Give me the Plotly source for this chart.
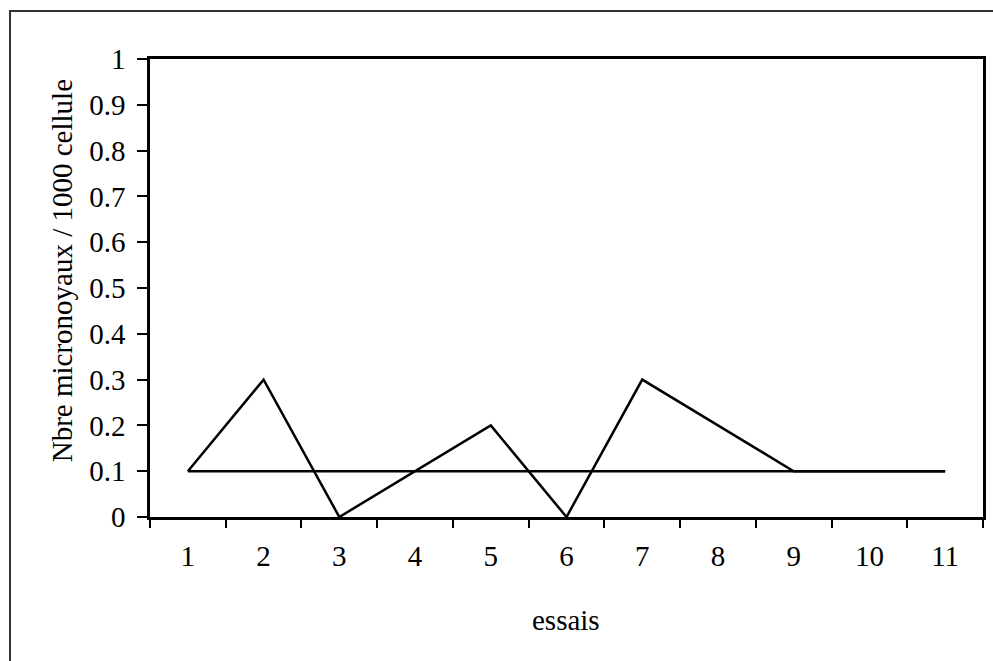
import plotly.graph_objects as go

categories = ["1", "2", "3", "4", "5", "6", "7", "8", "9", "10", "11"]
essai_values = [0.1, 0.3, 0.0, 0.1, 0.2, 0.0, 0.3, 0.2, 0.1, 0.1, 0.1]
reference_values = [0.1] * 11
y_ticks = [0, 0.1, 0.2, 0.3, 0.4, 0.5, 0.6, 0.7, 0.8, 0.9, 1]
y_tick_labels = ["0", "0.1", "0.2", "0.3", "0.4", "0.5", "0.6", "0.7", "0.8", "0.9", "1"]
y_title = "Nbre micronoyaux / 1000 cellule"
x_title = "essais"

W, H = 993, 661
# plot area in page pixels
PL, PR, PT, PB = 149.5, 985.5, 59, 517
L = PL
R = W - PR
T = PT
B = H - PB
pw = W - L - R
ph = H - T - B

def px_x(x):
    return (x - PL) / pw

def px_y(y):
    return (PB - y) / ph

FONT = "Liberation Serif, Times New Roman, serif"
FS = 29

fig = go.Figure()
fig.add_trace(go.Scatter(x=categories, y=reference_values, mode="lines",
                         line=dict(color="black", width=2.5), showlegend=False,
                         hoverinfo="skip"))
fig.add_trace(go.Scatter(x=categories, y=essai_values, mode="lines",
                         line=dict(color="black", width=2.5), showlegend=False,
                         hoverinfo="skip"))

fig.update_layout(
    width=W, height=H, autosize=False,
    margin=dict(l=L, r=R, t=T, b=B, pad=0),
    paper_bgcolor="white", plot_bgcolor="white",
    font=dict(family=FONT, size=FS, color="black"),
    xaxis=dict(type="category", range=[-0.5, 10.5], tickson="boundaries",
               ticks="outside", ticklen=8, tickwidth=1.5, tickcolor="black",
               showline=True, linecolor="black", linewidth=2.5, mirror=True,
               showgrid=False, zeroline=False, ticklabelstandoff=11,
               tickfont=dict(size=FS)),
    yaxis=dict(range=[0, 1], tickvals=y_ticks, ticktext=y_tick_labels,
               ticks="outside", ticklen=10, tickwidth=1.5, tickcolor="black",
               showline=True, linecolor="black", linewidth=2.5, mirror=True,
               showgrid=False, zeroline=False, ticklabelstandoff=6,
               tickfont=dict(size=FS)),
    shapes=[dict(type="rect", xref="paper", yref="paper",
                 x0=px_x(9), x1=px_x(1010), y0=px_y(680), y1=px_y(11),
                 line=dict(color="#333333", width=2), fillcolor="rgba(0,0,0,0)",
                 layer="below")],
    annotations=[
        dict(text=y_title, textangle=-90, xref="paper", yref="paper",
             x=px_x(61), y=px_y(464), xanchor="center", yanchor="bottom",
             showarrow=False, font=dict(size=FS)),
        dict(text=x_title, xref="paper", yref="paper",
             x=px_x(567), y=px_y(620), xanchor="center", yanchor="middle",
             showarrow=False, font=dict(size=FS)),
    ],
)

fig.write_html(
    "out.html",
    config={"displayModeBar": False},
    post_script="document.body.style.margin='0';document.body.style.overflow='hidden';",
)
